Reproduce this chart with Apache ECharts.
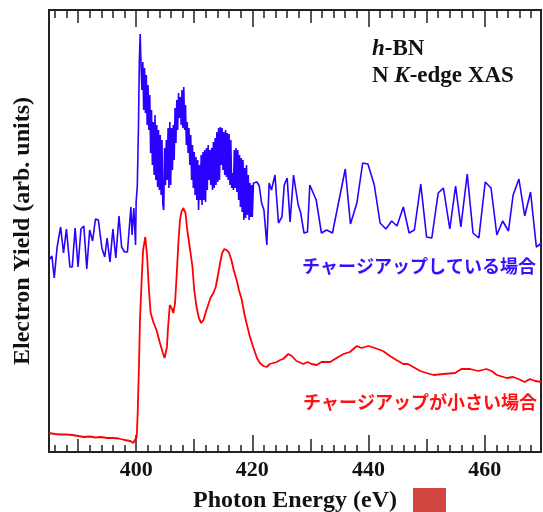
<!DOCTYPE html>
<html>
<head>
<meta charset="utf-8">
<script src="https://cdn.jsdelivr.net/npm/echarts@6/dist/echarts.min.js"></script>
<style>
  html, body { margin: 0; padding: 0; background: #ffffff; }
  #chart { width: 543px; height: 512px; }
</style>
</head>
<body>
<div id="chart"></div>
<script>
// N K-edge XAS of h-BN: electron yield vs photon energy (arb. units)

// Strongly charged sample (noisy spectrum)
const blueEnergy = [
  385.0, 385.5, 385.9, 386.4, 387.0, 387.5, 388.0, 388.6, 389.0, 389.5,
  390.0, 390.5, 391.0, 391.5, 392.0, 392.5, 393.0, 393.5, 394.1, 394.6,
  395.0, 395.5, 396.0, 396.5, 397.05, 397.5, 398.0, 398.5, 399.1, 399.3,
  399.6, 399.9,
  400.0, 400.2, 400.4, 400.55, 400.7, 400.85, 401.0, 401.15, 401.3, 401.45,
  401.6, 401.75, 401.9, 402.05, 402.2, 402.35, 402.5, 402.65, 402.8, 402.95,
  403.1, 403.25, 403.4, 403.55, 403.7, 403.85, 404.0, 404.15, 404.3, 404.45,
  404.6, 404.75, 404.9, 405.05, 405.2, 405.35, 405.5, 405.65, 405.8, 405.95,
  406.1, 406.25, 406.4, 406.55, 406.7, 406.85, 407.0, 407.15, 407.3, 407.45,
  407.6, 407.75, 407.9, 408.05, 408.2, 408.35, 408.5, 408.65, 408.8, 408.95,
  409.1, 409.25, 409.4, 409.55, 409.7, 409.85, 410.0, 410.15, 410.3, 410.45,
  410.6, 410.75, 410.9, 411.05, 411.2, 411.35, 411.5, 411.65, 411.8, 411.95,
  412.1, 412.25, 412.4, 412.55, 412.7, 412.85, 413.0, 413.15, 413.3, 413.45,
  413.6, 413.75, 413.9, 414.05, 414.2, 414.35, 414.5, 414.65, 414.8, 414.95,
  415.1, 415.25, 415.4, 415.55, 415.7, 415.85, 416.0, 416.15, 416.3, 416.45,
  416.6, 416.75, 416.9, 417.05, 417.2, 417.35, 417.5, 417.65, 417.8, 417.95,
  418.1, 418.25, 418.4, 418.55, 418.7, 418.85, 419.0, 419.15, 419.3, 419.45,
  419.6, 419.75, 419.9,
  420.0, 420.2, 420.8, 421.2, 421.6, 422.0, 422.5, 422.9, 423.3, 423.9,
  424.5, 425.1, 425.5, 426.0, 426.5, 427.1, 427.9, 428.3, 428.9, 429.5,
  429.9, 431.0, 431.9, 432.8, 433.8, 436.0, 436.9, 438.0, 439.0, 439.9,
  441.0, 442.0, 443.0, 444.0, 444.9, 446.0, 447.0, 447.9, 449.0, 450.0,
  450.9, 452.0, 452.9, 454.0, 455.0, 455.9, 457.0, 458.0, 459.0, 460.1,
  461.1, 462.1, 463.1, 464.1, 464.9, 465.9, 466.9, 467.9, 468.9, 469.8
];
const blueYield = [
  192, 196, 174, 205, 225, 199, 223, 185, 185, 224,
  185, 223, 226, 183, 222, 211, 233, 232, 204, 195,
  214, 190, 223, 194, 236, 205, 200, 200, 245, 217,
  244, 207,
  250, 266, 324, 390, 418, 386, 362, 390, 342, 384,
  339, 377, 327, 367, 322, 357, 299, 342, 287, 330,
  277, 337, 272, 327, 265, 322, 262, 317, 257, 312,
  247, 242, 304, 267, 312, 272, 324, 264, 330, 267,
  324, 282, 327, 292, 344, 309, 352, 322, 359, 334,
  355, 327, 362, 324, 365, 322, 347, 307, 330, 299,
  324, 287, 317, 272, 307, 264, 300, 257, 295, 252,
  292, 242, 287, 252, 297, 247, 300, 252, 302, 250,
  304, 262, 307, 272, 302, 267, 304, 262, 310, 264,
  314, 267, 320, 270, 324, 272, 325, 287, 324, 282,
  320, 277, 322, 275, 319, 272, 318, 267, 312, 264,
  279, 262, 302, 264, 304, 260, 302, 252, 297, 245,
  294, 240, 292, 232, 284, 234, 287, 237, 277, 232,
  269, 235, 267,
  235, 269, 270, 266, 249, 242, 207, 269, 262, 277,
  229, 235, 267, 274, 230, 277, 247, 240, 219, 220,
  267, 252, 219, 222, 219, 283, 228, 249, 289, 288,
  267, 229, 223, 231, 226, 245, 219, 222, 268, 215,
  214, 259, 264, 223, 266, 225, 278, 219, 214, 270,
  264, 217, 231, 221, 257, 273, 236, 260, 205, 209
];

// Weakly charged sample (clean spectrum)
const redEnergy = [
  385, 386, 387, 388, 389, 390, 391, 392, 393, 394,
  395, 396, 397, 398, 399, 399.5, 399.8, 400.1, 400.27, 400.5,
  400.66, 400.95, 401.2, 401.58, 401.9, 402.2, 402.5, 402.96, 403.5, 404.1,
  404.6, 404.9, 405.3, 405.5, 405.8, 406.1, 406.4, 406.7, 407.0, 407.3,
  407.55, 407.8, 408.1, 408.5, 408.8, 409.3, 409.7, 410.0, 410.4, 410.8,
  411.2, 411.6, 412.0, 412.4, 412.8, 413.3, 413.7, 414.0, 414.4, 414.8,
  415.2, 415.6, 416.0, 416.4, 416.8, 417.3, 417.7, 418.2, 418.6, 419.0,
  419.6, 420.2, 420.8, 421.3, 421.9, 422.5, 423.0, 423.6, 424.2, 424.8,
  425.3, 426.2, 426.8, 427.6, 428.8, 429.5, 430.2, 431.1, 431.9, 433.4,
  434.5, 435.7, 436.8, 438.0, 438.8, 440.0, 441.1, 442.5, 443.7, 444.8,
  446.0, 446.8, 447.7, 448.9, 450.0, 451.2, 452.9, 454.9, 456.0, 457.5,
  458.9, 460.3, 461.2, 462.1, 463.8, 464.9, 465.8, 466.9, 467.8, 468.7,
  469.8
];
const redYield = [
  19, 18, 17.5, 17.5, 17, 16, 15, 15.5, 14.5, 15,
  14, 14, 13.5, 12, 11, 9, 11, 15, 39, 89,
  132, 172, 202, 215, 195, 162, 139, 130, 122, 109,
  99, 94, 105, 125, 147, 144, 139, 149, 179, 212,
  232, 240, 244, 239, 222, 202, 185, 162, 145, 134,
  129, 132, 140, 147, 154, 159, 165, 174, 187, 199,
  203, 202, 199, 192, 182, 172, 162, 152, 139, 129,
  115, 104, 94, 89, 86, 85, 88, 89, 90, 92,
  93, 98, 96, 91, 88, 90, 88, 87, 90, 90,
  94, 98, 100, 106, 104, 106, 104, 101, 96, 92,
  88, 88, 85, 81, 79, 77, 78, 79, 83, 83,
  81, 83, 81, 77, 74, 75, 73, 70, 73, 71,
  70
];

// Energy axis ticks
const labelTicks = [400, 420, 440, 460];
const midTicks = [390, 410, 430, 450];
const minorTicks = [];
for (let e = 386; e < 470; e += 2) {
  if (e % 10 !== 0) minorTicks.push(e);
}

const X_MIN = 385, X_MAX = 469.7;
const Y_MIN = 0, Y_MAX = 442;
const AXIS_COLOR = '#222222';
const SERIF = '"Liberation Serif", "Times New Roman", serif';
const CJK = '"Noto Sans CJK JP", "Noto Sans", sans-serif';

function energyAxis(position, ticks, tickLen, withLabels) {
  return {
    type: 'value',
    position: position,
    min: X_MIN,
    max: X_MAX,
    axisLine: { show: true, onZero: false, lineStyle: { color: AXIS_COLOR, width: 2 } },
    axisTick: {
      show: true,
      inside: true,
      length: tickLen,
      customValues: ticks,
      lineStyle: { color: AXIS_COLOR, width: 1.5 }
    },
    axisLabel: withLabels ? {
      show: true,
      customValues: labelTicks,
      margin: 7,
      color: '#111111',
      fontFamily: SERIF,
      fontWeight: 'bold',
      fontSize: 22
    } : { show: false },
    splitLine: { show: false }
  };
}

const chart = echarts.init(document.getElementById('chart'), null, { renderer: 'canvas' });

const xAxes = [
  energyAxis('bottom', labelTicks, 17, true),
  energyAxis('bottom', midTicks, 13, false),
  energyAxis('bottom', minorTicks, 7, false),
  energyAxis('top', labelTicks, 17, false),
  energyAxis('top', midTicks, 13, false),
  energyAxis('top', minorTicks, 8, false)
];
xAxes[0].name = 'Photon Energy (eV)';
xAxes[0].nameLocation = 'middle';
xAxes[0].nameGap = 37;
xAxes[0].nameTextStyle = { color: '#111111', fontFamily: SERIF, fontWeight: 'bold', fontSize: 24 };

const option = {
  animation: false,
  backgroundColor: '#ffffff',
  grid: {
    left: 49, top: 10, width: 492, height: 442,
    containLabel: false,
    outerBoundsMode: 'none'
  },
  xAxis: xAxes,
  yAxis: [
    {
      type: 'value',
      position: 'left',
      min: Y_MIN,
      max: Y_MAX,
      name: 'Electron Yield (arb. units)',
      nameLocation: 'middle',
      nameGap: 14,
      nameTextStyle: { color: '#111111', fontFamily: SERIF, fontWeight: 'bold', fontSize: 24 },
      axisLine: { show: true, onZero: false, lineStyle: { color: AXIS_COLOR, width: 2 } },
      axisTick: { show: false },
      axisLabel: { show: false },
      splitLine: { show: false }
    },
    {
      type: 'value',
      position: 'right',
      min: Y_MIN,
      max: Y_MAX,
      axisLine: { show: true, onZero: false, lineStyle: { color: AXIS_COLOR, width: 2 } },
      axisTick: { show: false },
      axisLabel: { show: false },
      splitLine: { show: false }
    }
  ],
  series: [
    {
      name: 'charged',
      type: 'line',
      xAxisIndex: 0,
      yAxisIndex: 0,
      showSymbol: false,
      symbol: 'none',
      data: blueEnergy.map((e, i) => [e, blueYield[i]]),
      lineStyle: { color: '#2a00ff', width: 1.6 },
      z: 3
    },
    {
      name: 'weakly charged',
      type: 'line',
      xAxisIndex: 0,
      yAxisIndex: 0,
      showSymbol: false,
      symbol: 'none',
      data: redEnergy.map((e, i) => [e, redYield[i]]),
      lineStyle: { color: '#ff0000', width: 1.8 },
      z: 3
    }
  ],
  graphic: [
    {
      type: 'text',
      left: 372,
      top: 38,
      style: {
        text: '{it|h}-BN',
        fill: '#111111',
        fontFamily: SERIF,
        fontWeight: 'bold',
        fontSize: 23,
        rich: {
          it: { fontStyle: 'italic', fontWeight: 'bold', fontFamily: SERIF, fontSize: 23, fill: '#111111' }
        }
      }
    },
    {
      type: 'text',
      left: 372,
      top: 65,
      style: {
        text: 'N {it|K}-edge XAS',
        fill: '#111111',
        fontFamily: SERIF,
        fontWeight: 'bold',
        fontSize: 23,
        rich: {
          it: { fontStyle: 'italic', fontWeight: 'bold', fontFamily: SERIF, fontSize: 23, fill: '#111111' }
        }
      }
    },
    {
      type: 'text',
      right: 7,
      top: 257,
      style: {
        text: 'チャージアップしている場合',
        fill: '#3311ff',
        fontFamily: CJK,
        fontWeight: 'bold',
        fontSize: 18
      }
    },
    {
      type: 'text',
      right: 6,
      top: 393,
      style: {
        text: 'チャージアップが小さい場合',
        fill: '#ff1111',
        fontFamily: CJK,
        fontWeight: 'bold',
        fontSize: 18
      }
    },
    {
      type: 'rect',
      shape: { x: 413, y: 488, width: 33, height: 24 },
      style: { fill: '#d0453f' }
    }
  ]
};

chart.setOption(option);
</script>
</body>
</html>
